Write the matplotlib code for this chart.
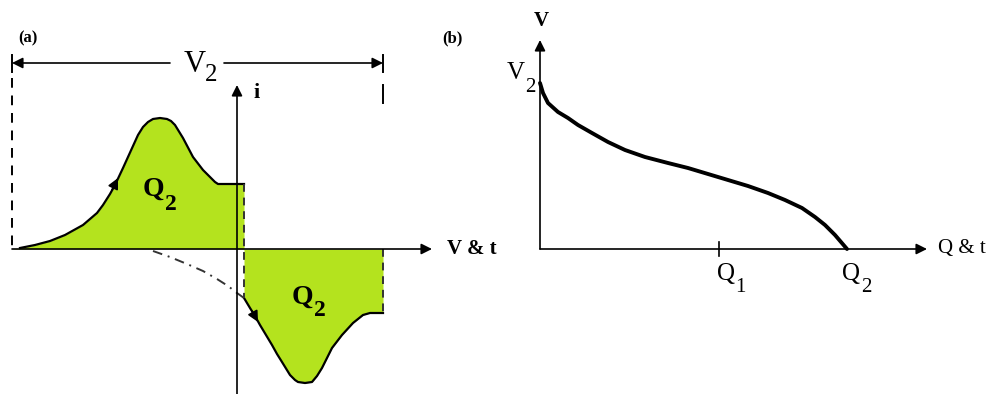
import matplotlib.pyplot as plt

plt.rcParams['font.family'] = 'serif'
plt.rcParams['font.serif'] = ['Liberation Serif', 'DejaVu Serif']

GREEN = '#b4e31e'

# (a) current response, upper lobe (charge) and lower lobe (discharge)
upper_x = [12, 20, 35, 50, 65, 83, 97, 103, 110, 115, 123, 133, 138, 143, 148, 153,
           160, 167, 171, 175, 183, 193, 203, 211, 215, 218, 244]
upper_y = [249, 248, 245, 241, 235, 225, 213, 205, 194, 185, 168, 146, 135, 127, 122, 119,
           118, 119, 121, 125, 138, 157, 170, 178, 182, 184, 184]
lower_x = [244, 250, 255, 260, 266, 272, 277, 282, 290, 295, 298, 305, 312, 317,
           322, 327, 332, 342, 353, 363, 370, 383]
lower_y = [298, 308, 316, 325, 335, 345, 354, 362, 375, 380, 382, 383, 382, 376,
           368, 358, 348, 335, 323, 315, 313, 313]
return_x = [153, 170, 187, 203, 217, 228, 237, 244]
return_y = [251, 257, 264, 271, 279, 286, 293, 298]

# (b) voltage vs charge
dis_q = [540, 543, 548, 558, 568, 578, 592, 608, 625, 645, 668, 688, 708, 728,
         748, 768, 785, 802, 815, 825, 835, 847]
dis_v = [83, 93, 103, 112, 118, 125, 133, 142, 150, 157, 163, 168, 174, 180,
         186, 193, 200, 208, 217, 225, 235, 249]

fig = plt.figure(figsize=(9.99, 3.94), dpi=100)
ax = fig.add_axes([0, 0, 1, 1])
ax.set_xlim(0, 999)
ax.set_ylim(394, 0)
ax.axis('off')

arrow = dict(arrowstyle='-|>', color='black', lw=1.2, mutation_scale=16,
             shrinkA=0, shrinkB=0)


def label(x, y, s, size, weight='normal', ha='center'):
    ax.text(x, y, s, fontsize=size, fontweight=weight, ha=ha, va='center',
            family='Liberation Serif')


# ---- panel (a) ----
ax.fill_between(upper_x, upper_y, 249, color=GREEN, lw=0)
ax.fill_between(lower_x, lower_y, 249, color=GREEN, lw=0)
ax.plot(upper_x[1:], upper_y[1:], color='black', lw=1.6, solid_joinstyle='round')
ax.plot(lower_x, lower_y, color='black', lw=1.6, solid_joinstyle='round')
ax.plot(return_x, return_y, color='#333333', lw=1.4, ls=(0, (5, 3, 1, 3)))
ax.plot([244, 244], [184, 298], color='#333333', lw=1.4, ls=(0, (4, 3)))
ax.plot([383, 383], [249, 313], color='#333333', lw=1.4, ls=(0, (4, 3)))
ax.plot([12, 12], [78, 249], color='black', lw=1.4, ls=(0, (5, 4)))

# arrowheads along the curves
ax.annotate('', xy=(118, 178), xytext=(112, 190), arrowprops=arrow)
ax.annotate('', xy=(258, 322), xytext=(252, 311), arrowprops=arrow)

# axes of (a)
ax.annotate('', xy=(432, 249), xytext=(12, 249), arrowprops=arrow)
ax.annotate('', xy=(237, 85), xytext=(237, 394), arrowprops=arrow)

# V2 span marker
ax.annotate('', xy=(12, 63), xytext=(170, 63), arrowprops=arrow)
ax.annotate('', xy=(383, 63), xytext=(224, 63), arrowprops=arrow)
ax.plot([12, 12], [55, 72], color='black', lw=1.4)
ax.plot([383, 383], [55, 72], color='black', lw=1.4)
ax.plot([383, 383], [85, 103], color='black', lw=1.4)

label(28, 38, '(a)', 12, 'bold')
label(195, 64, 'V', 22)
label(211, 75, '2', 18)
label(257, 93, 'i', 16, 'bold')
label(447, 249, 'V & t', 15, 'bold', ha='left')
label(153, 189, 'Q', 20, 'bold')
label(171, 204, '2', 17, 'bold')
label(302, 297, 'Q', 20, 'bold')
label(320, 311, '2', 17, 'bold')

# ---- panel (b) ----
ax.annotate('', xy=(927, 249), xytext=(540, 249), arrowprops=arrow)
ax.annotate('', xy=(540, 40), xytext=(540, 249), arrowprops=arrow)
ax.plot([719, 719], [242, 256], color='black', lw=1.2)
ax.plot(dis_q, dis_v, color='black', lw=2.8, solid_joinstyle='round',
        solid_capstyle='round')

label(452, 38, '(b)', 12, 'bold')
label(541, 21, 'V', 15, 'bold')
label(516, 73, 'V', 18)
label(530, 87, '2', 15)
label(726, 274, 'Q', 18)
label(740, 287, '1', 15)
label(851, 274, 'Q', 18)
label(866, 287, '2', 15)
label(938, 249, 'Q & t', 15, ha='left')

fig.savefig('out.png', dpi=100)
